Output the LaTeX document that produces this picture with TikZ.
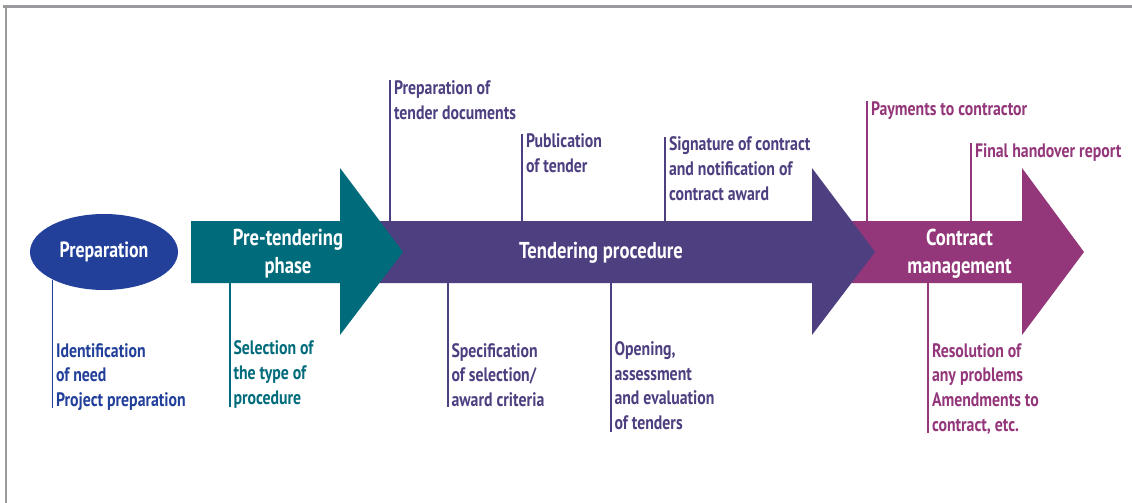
\documentclass[tikz,border=0pt]{standalone}
\usepackage{fontspec}
\setmainfont{PT Sans}[FakeStretch=0.81]
\usetikzlibrary{shapes.geometric}
\definecolor{cblue}{HTML}{22409A}
\definecolor{cteal}{HTML}{006B7B}
\definecolor{cpurp}{HTML}{4E3F80}
\definecolor{cmag}{HTML}{93367A}
\definecolor{cframe}{HTML}{9A9A9E}
\begin{document}
\begin{tikzpicture}[x=1pt,y=-1pt,
  lab/.style={inner sep=0pt, outer sep=0pt, align=left, anchor=base west,
    font=\fontsize{19.5}{24.6}\selectfont\bfseries},
  ttl/.style={inner sep=0pt, text=white, align=center,
    font=\fontsize{23}{28}\selectfont\bfseries},
  tick/.style={line width=1.3pt},
  frame/.style={draw=cframe, line width=2.2pt}]
\useasboundingbox (0,0) rectangle (1132,503);
% frame
\draw[frame] (3,6.5) -- (1132,6.5);
\draw[frame] (6,6.5) -- (6,503);

% arrows (back to front)
\fill[cmag] (845,221) -- (1022,221) -- (1022,168) -- (1084,252) -- (1022,335) -- (1022,283) -- (845,283) -- cycle;
\fill[cpurp] (370,221) -- (812,221) -- (812,168) -- (875,252) -- (812,335) -- (812,283) -- (370,283) -- cycle;
\fill[cteal] (191,221) -- (340,221) -- (340,168) -- (403,252) -- (340,335) -- (340,283) -- (191,283) -- cycle;

% ellipse
\node[ellipse, fill=cblue, minimum width=148pt, minimum height=76pt, inner sep=0pt,
  text=white, font=\fontsize{22}{26}\selectfont\bfseries] (prep) at (104,252) {Preparation};

% titles
\node[ttl] (pre) at (288,254) {Pre-tendering\\phase};
\node[ttl] (ten) at (601,253) {Tendering procedure};
\node[ttl] (con) at (959.5,254) {Contract\\management};

% labels (anchor = baseline of last line)
\node[lab, text=cblue] (l1) at (56,406.5) {Identification\\of need\\Project preparation};
\node[lab, text=cteal] (l2) at (233.5,404) {Selection of\\the type of\\procedure};
\node[lab, text=cpurp] (l3) at (394,119.5) {Preparation of\\tender documents};
\node[lab, text=cpurp] (l4) at (526,172.5) {Publication\\of tender};
\node[lab, text=cpurp] (l5) at (669,200) {Signature of contract\\and notification of\\contract award};
\node[lab, text=cpurp] (l6) at (451.5,406.5) {Specification\\of selection/\\award criteria};
\node[lab, text=cpurp] (l7) at (614.5,429.5) {Opening,\\assessment\\and evaluation\\of tenders};
\node[lab, text=cmag] (l8) at (871,115) {Payments to contractor};
\node[lab, text=cmag] (l9) at (975,157) {Final handover report};
\node[lab, text=cmag] (l10) at (932,431) {Resolution of\\any problems\\Amendments to\\contract, etc.};

% connector end points
\coordinate (a1) at (52.3,280);   \coordinate (b1) at (52.3,408);
\coordinate (a2) at (230,283);    \coordinate (b2) at (230,407);
\coordinate (a3) at (390,221);    \coordinate (b3) at (390,80);
\coordinate (a4) at (522,221);    \coordinate (b4) at (522,134);
\coordinate (a5) at (665,221);    \coordinate (b5) at (665,137);
\coordinate (a6) at (448,283);    \coordinate (b6) at (448,407);
\coordinate (a7) at (611,283);    \coordinate (b7) at (611,432);
\coordinate (a8) at (867,221);    \coordinate (b8) at (867,101);
\coordinate (a9) at (971,221);    \coordinate (b9) at (971,143);
\coordinate (a10) at (928,283);   \coordinate (b10) at (928,433);

\draw[tick, cblue] (a1) -- (b1);
\draw[tick, cteal] (a2) -- (b2);
\draw[tick, cpurp] (a3) -- (b3);
\draw[tick, cpurp] (a4) -- (b4);
\draw[tick, cpurp] (a5) -- (b5);
\draw[tick, cpurp] (a6) -- (b6);
\draw[tick, cpurp] (a7) -- (b7);
\draw[tick, cmag] (a8) -- (b8);
\draw[tick, cmag] (a9) -- (b9);
\draw[tick, cmag] (a10) -- (b10);
\end{tikzpicture}
\end{document}
